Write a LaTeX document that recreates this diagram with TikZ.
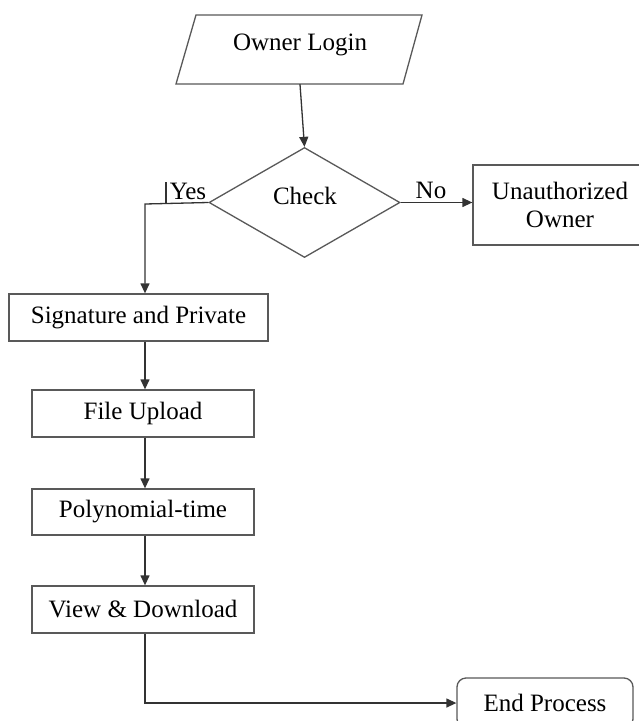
\documentclass[tikz,border=0pt]{standalone}
\usepackage{fontspec}
\setmainfont{Liberation Serif}
\usetikzlibrary{shapes.geometric,arrows.meta}

\tikzset{
  frame/.style={draw=black!65, line width=1.3pt},
  procbox/.style={frame, rectangle, inner sep=0pt, align=center,
                  font=\fontsize{25}{28}\selectfont},
  label/.style={inner sep=0pt, font=\fontsize{25}{28}\selectfont},
  flow/.style={draw=black!80, line width=1.3pt,
               -{Triangle[length=10pt,width=9pt]}},
  plainline/.style={draw=black!80, line width=1.3pt}
}

\begin{document}
\begin{tikzpicture}[x=1pt,y=-1pt]
  \clip (0,0) rectangle (639,721);
  \fill[white] (0,0) rectangle (639,721);

  % column of the main flow line
  \coordinate (spine) at (145,0);

  % input/output parallelogram
  \draw[frame] (196,15) -- (422,15) -- (403,84) -- (176,84) -- cycle;
  \node[label, minimum width=226pt, minimum height=69pt] (login) at (300,49.5) {};
  \node[label] (logintext) at (300,45) {Owner Login};

  % decision
  \node[frame, diamond, inner sep=0pt, minimum width=191pt, minimum height=110pt]
    (check) at (304.5,202.5) {};
  \node[label] (checktext) at (305,196) {Check};

  % process boxes
  \node[procbox, minimum width=174pt, minimum height=80pt] (unauth) at (560,205)
    {Unauthorized\\Owner};
  \node[procbox, minimum width=259pt, minimum height=47pt] (sig) at (138.5,317.5)
    {Signature and Private};
  \node[procbox, minimum width=222pt, minimum height=47pt] (file) at (143,413.5)
    {File Upload};
  \node[procbox, minimum width=222pt, minimum height=46pt] (poly) at (143,512)
    {Polynomial-time};
  \node[procbox, minimum width=222pt, minimum height=47pt] (view) at (143,609.5)
    {View \& Download};
  \node[procbox, rounded corners=9pt, minimum width=176pt, minimum height=50pt]
    (end) at (545,703) {End Process};

  % connectors
  \draw[flow] (login.south) -- (check.north);
  \coordinate (yesturn) at (145,204);
  \draw[flow] (check.west) -- (yesturn) -- (yesturn |- sig.north);
  \draw[plainline] (166,182) -- (166,203);
  \node[label] (yes) at (188,191) {Yes};

  \draw[flow] (check.east) -- (check.east -| unauth.west);
  \node[label] (no) at (431,190) {No};

  \draw[flow] (sig.south -| spine) -- (file.north -| spine);
  \draw[flow] (file.south -| spine) -- (poly.north -| spine);
  \draw[flow] (poly.south -| spine) -- (view.north -| spine);
  \draw[flow] (view.south -| spine) -- (spine |- end.west) -- (end.west);
\end{tikzpicture}
\end{document}
